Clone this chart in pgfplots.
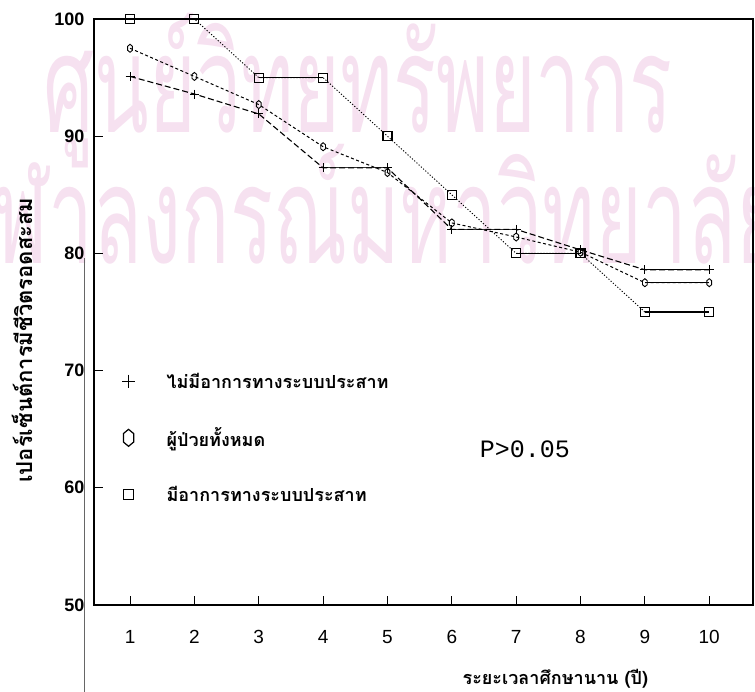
\documentclass[border=0pt]{standalone}
\usepackage{fontspec}
\setmainfont{Liberation Sans}
\newfontfamily\thaifont[Script=Thai]{Loma}
\newfontfamily\monofont{Liberation Mono}
\usepackage{pgfplots}
\pgfplotsset{compat=1.18}
\usetikzlibrary{plotmarks}
\definecolor{wm}{RGB}{246,225,240}
\pgfdeclareplotmark{hexagon}{%
  \pgfpathmoveto{\pgfpoint{0pt}{\pgfplotmarksize}}%
  \pgfpathlineto{\pgfpoint{0.6\pgfplotmarksize}{0.5\pgfplotmarksize}}%
  \pgfpathlineto{\pgfpoint{0.6\pgfplotmarksize}{-0.5\pgfplotmarksize}}%
  \pgfpathlineto{\pgfpoint{0pt}{-\pgfplotmarksize}}%
  \pgfpathlineto{\pgfpoint{-0.6\pgfplotmarksize}{-0.5\pgfplotmarksize}}%
  \pgfpathlineto{\pgfpoint{-0.6\pgfplotmarksize}{0.5\pgfplotmarksize}}%
  \pgfpathclose
  \pgfusepathqstroke}
\begin{document}
\begin{tikzpicture}
\path[use as bounding box] (-94bp,-87bp) rectangle (661bp,605bp);
% watermark of the scanned page
\node[wm, anchor=base, yscale=1.7, font=\thaifont\fontsize{80bp}{80bp}\selectfont] at (264bp,472bp) {ศูนย์วิทยทรัพยากร};
\node[wm, anchor=base, yscale=1.7, font=\thaifont\fontsize{80bp}{80bp}\selectfont] at (271bp,341bp) {จุฬาลงกรณ์มหาวิทยาลัย};
\begin{axis}[
  scale only axis, width=659bp, height=586bp,
  at={(0bp,0bp)}, anchor=south west,
  xmin=0.44, xmax=10.68, ymin=50, ymax=100,
  xtick={1,2,3,4,5,6,7,8,9,10}, ytick={50,60,70,80,90,100},
  tick align=inside, tick pos=left,
  major tick length=9bp,
  axis line style={line width=1.2bp},
  every tick/.style={black, line width=0.9bp},
  /pgf/number format/assume math mode=true,
  yticklabel style={font=\bfseries\fontsize{18bp}{18bp}\selectfont, xshift=-6bp},
  xticklabel style={font=\fontsize{19bp}{19bp}\selectfont, yshift=-22bp},
  clip=false,
  every axis x label/.style={at={(rel axis cs:0.70,0)}, yshift=-74bp, anchor=center},
  every axis y label/.style={at={(rel axis cs:0,0.452)}, xshift=-72bp, rotate=90, anchor=center},
  xlabel={ระยะเวลาศึกษานาน (ปี)},
  ylabel={เปอร์เซ็นต์การมีชีวิตรอดสะสม},
  xlabel style={font=\thaifont\bfseries\fontsize{18bp}{20bp}\selectfont},
  ylabel style={font=\thaifont\bfseries\fontsize{22bp}{24bp}\selectfont},
  legend style={draw=none, fill=none, at={(rel axis cs:0.04,0.40)}, anchor=north west,
    font=\thaifont\bfseries\fontsize{18bp}{20bp}\selectfont, row sep=34bp, inner sep=0pt},
  legend cell align=left,
]
% flat (unchanged) stretches are drawn solid
\addplot[forget plot, black, line width=1.1bp] coordinates {(1,100) (2,100)};
\addplot[forget plot, black, line width=1.1bp] coordinates {(3,95) (4,95)};
\addplot[forget plot, black, line width=1.1bp] coordinates {(7,80) (8,80)};
\addplot[forget plot, black, line width=1.1bp] coordinates {(9,75) (10,75)};
\addplot[forget plot, black!80, line width=1bp] coordinates {(4,87.3) (5,87.3)};
\addplot[forget plot, black!80, line width=1bp] coordinates {(6,82.05) (7,82.05)};
\addplot[forget plot, black, line width=1.1bp] coordinates {(9,78.6) (10,78.6)};
\addplot[forget plot, black, line width=1.1bp] coordinates {(9,77.5) (10,77.5)};
% with neurological symptoms
\addplot[forget plot, black, line width=0.9bp, dash pattern=on 1.2bp off 1.8bp,
  mark=square, mark size=4.5bp, mark options={solid, line width=1.1bp}]
  coordinates {(1,100) (2,100) (3,95) (4,95) (5,90) (6,85) (7,80) (8,80) (9,75) (10,75)};
% without neurological symptoms
\addplot[forget plot, black, line width=1.1bp, dash pattern=on 6bp off 3bp,
  mark=+, mark size=4.5bp, mark options={solid, line width=1bp}]
  coordinates {(1,95.1) (2,93.6) (3,91.9) (4,87.3) (5,87.3) (6,82.05) (7,82.05) (8,80.3) (9,78.6) (10,78.6)};
% all patients
\addplot[forget plot, black, line width=1bp, dash pattern=on 3bp off 2.5bp,
  mark=hexagon, mark size=4bp, mark options={solid, line width=0.9bp}]
  coordinates {(1,97.5) (2,95.1) (3,92.7) (4,89.1) (5,86.9) (6,82.6) (7,81.4) (8,80.1) (9,77.5) (10,77.5)};
\addlegendimage{legend image code/.code={\path[draw=none, fill=none] (0bp,-6bp) (44bp,6bp); \draw[black, line width=1.2bp] plot[mark=+, mark size=6.5bp] coordinates {(8bp,0bp)};}}
\addlegendentry{ไม่มีอาการทางระบบประสาท}
\addlegendimage{legend image code/.code={\path[draw=none, fill=none] (0bp,-6bp) (44bp,6bp); \draw[black, line width=1.2bp] plot[mark=hexagon, mark size=8.5bp] coordinates {(8bp,0bp)};}}
\addlegendentry{ผู้ป่วยทั้งหมด}
\addlegendimage{legend image code/.code={\path[draw=none, fill=none] (0bp,-6bp) (44bp,6bp); \draw[black, line width=1.4bp] plot[mark=square, mark size=5bp] coordinates {(8bp,0bp)};}}
\addlegendentry{มีอาการทางระบบประสาท}
\node[font=\monofont\fontsize{25bp}{25bp}\selectfont] at (rel axis cs:0.654,0.265) {P>0.05};
\end{axis}
\draw[black!60, line width=0.7bp] (-10bp,347bp) -- (-10bp,-87bp);
\end{tikzpicture}
\end{document}
